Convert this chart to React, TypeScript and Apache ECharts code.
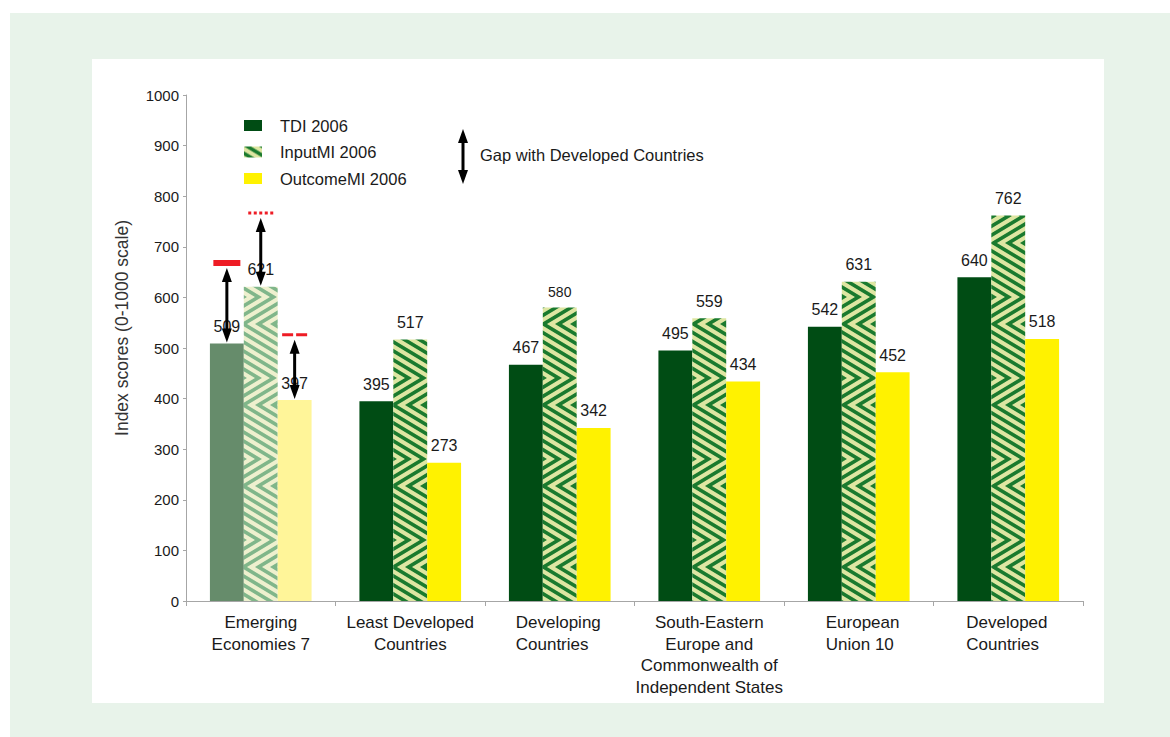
import React, { useEffect, useRef } from 'react';
import * as echarts from 'echarts';

const categories = [
  'Emerging\nEconomies 7',
  'Least Developed\nCountries',
  'Developing\nCountries',
  'South-Eastern\nEurope and\nCommonwealth of\nIndependent States',
  'European\nUnion 10',
  'Developed\nCountries',
];
const seriesNames = ['TDI 2006', 'InputMI 2006', 'OutcomeMI 2006'];
const tdi = [509, 395, 467, 495, 542, 640];
const inputMI = [621, 517, 580, 559, 631, 762];
const outcomeMI = [397, 273, 342, 434, 452, 518];
// Levels of the red markers above the Emerging Economies 7 bars (gap with Developed Countries)
const gapTargets = [668, 767, 526];
const gapNote = 'Gap with Developed Countries';
const yAxisName = 'Index scores (0-1000 scale)';

const FONT = '"Liberation Sans", Arial, Helvetica, sans-serif';

function makeStripes(green: number[], pale: number[]) {
  const W = 15, H = 81, SPLIT = 54, SS = 4;
  const c = document.createElement('canvas');
  c.width = W; c.height = H;
  const ctx = c.getContext('2d')!;
  const img = ctx.createImageData(W, H);
  for (let y = 0; y < H; y++) {
    for (let x = 0; x < W; x++) {
      let g = 0;
      for (let sy = 0; sy < SS; sy++) {
        for (let sx = 0; sx < SS; sx++) {
          const px = x + (sx + 0.5) / SS;
          const py = y + (sy + 0.5) / SS;
          const raw = py < SPLIT ? px - (py * 5) / 3 : px + (py * 5) / 3;
          const t = ((raw % W) + W) % W;
          if (t < 7) g++;
        }
      }
      const a = g / (SS * SS);
      const i = (y * W + x) * 4;
      img.data[i] = Math.round(green[0] * a + pale[0] * (1 - a));
      img.data[i + 1] = Math.round(green[1] * a + pale[1] * (1 - a));
      img.data[i + 2] = Math.round(green[2] * a + pale[2] * (1 - a));
      img.data[i + 3] = 255;
    }
  }
  ctx.putImageData(img, 0, 0);
  return c;
}

const leftBlock: Record<string, number> = {
  'Developing\nCountries': 88,
  'European\nUnion 10': 66,
  'Developed\nCountries': 84,
};

export default function App() {
  const ref = useRef<HTMLDivElement>(null);
  useEffect(() => {
    if (!ref.current) return;
    const chart = echarts.init(ref.current, null, { renderer: 'svg' });
    const stripe = { image: makeStripes([26, 122, 46], [222, 230, 162]), repeat: 'repeat' };
    const stripeFaded = { image: makeStripes([128, 182, 138], [238, 240, 206]), repeat: 'repeat' };

    const labelBase = {
      show: true,
      position: 'top',
      distance: 9,
      fontSize: 16,
      color: '#1a1a1a',
      fontFamily: FONT,
    };

    const richStyles: Record<string, any> = {};
    Object.values(leftBlock).forEach((w) => {
      richStyles['l' + w] = { width: w, align: 'left', fontSize: 17, lineHeight: 21.5, color: '#1a1a1a', fontFamily: FONT };
    });

    const gapFrom = [tdi[0], inputMI[0], outcomeMI[0]];
    const gapData = gapTargets.map((t, i) => [0, i - 1, gapFrom[i], t, i]);

    const option: any = {
      animation: false,
      backgroundColor: 'transparent',
      textStyle: { fontFamily: FONT },
      grid: { left: 186, right: 87, top: 95, bottom: 136, containLabel: false },
      legend: {
        data: seriesNames,
        orient: 'vertical',
        left: 239,
        top: 112,
        itemWidth: 18,
        itemHeight: 11,
        itemGap: 9.5,
        icon: 'rect',
        selectedMode: false,
        textStyle: { fontSize: 16.5, lineHeight: 16, color: '#1a1a1a', fontFamily: FONT, padding: [0, 0, 0, 13] },
      },
      xAxis: {
        type: 'category',
        data: categories,
        axisLine: { lineStyle: { color: '#a6a6a6', width: 1 } },
        axisTick: { show: true, length: 5, lineStyle: { color: '#a6a6a6' } },
        axisLabel: {
          interval: 0,
          margin: 11,
          fontSize: 17,
          lineHeight: 21.5,
          color: '#1a1a1a',
          fontFamily: FONT,
          formatter: (v: string) => {
            const w = leftBlock[v];
            if (!w) return v;
            return v.split('\n').map((l) => `{l${w}|${l}}`).join('\n');
          },
          rich: richStyles,
        },
      },
      yAxis: {
        type: 'value',
        min: 0,
        max: 1000,
        interval: 100,
        name: yAxisName,
        nameLocation: 'middle',
        nameGap: 55,
        nameRotate: 90,
        nameTextStyle: { fontSize: 17.5, color: '#333', fontFamily: FONT, padding: [0, 0, 0, 40] },
        axisLine: { show: true, lineStyle: { color: '#a6a6a6' } },
        axisTick: { show: true, length: 3, lineStyle: { color: '#a6a6a6' } },
        splitLine: { show: false },
        axisLabel: { margin: 7, fontSize: 15, color: '#1a1a1a', fontFamily: FONT, formatter: (v: number) => String(v) },
      },
      series: [
        {
          name: seriesNames[0],
          type: 'bar',
          barGap: '0%',
          barCategoryGap: '32%',
          itemStyle: { color: '#004c14' },
          label: labelBase,
          data: tdi.map((v, i) => (i === 0 ? { value: v, itemStyle: { color: '#668c6b' } } : v)),
        },
        {
          name: seriesNames[1],
          type: 'bar',
          barGap: '0%',
          barCategoryGap: '32%',
          itemStyle: { color: stripe },
          label: labelBase,
          data: inputMI.map((v, i) =>
            i === 0
              ? { value: v, itemStyle: { color: stripeFaded } }
              : i === 2
              ? { value: v, label: { fontSize: 14 } }
              : v
          ),
        },
        {
          name: seriesNames[2],
          type: 'bar',
          barGap: '0%',
          barCategoryGap: '32%',
          itemStyle: { color: '#fff200' },
          label: labelBase,
          data: outcomeMI.map((v, i) => (i === 0 ? { value: v, itemStyle: { color: '#fff599' } } : v)),
        },
        {
          name: 'gap',
          type: 'custom',
          z: 10,
          encode: { x: 0, y: 2 },
          data: gapData,
          renderItem: (params: any, api: any) => {
            const cat = api.value(0);
            const slot = api.value(1);
            const from = api.value(2);
            const to = api.value(3);
            const kind = api.value(4);
            const band = api.size([1, 0])[0];
            const bw = (band * 0.68) / 3;
            const p1 = api.coord([cat, from]);
            const p2 = api.coord([cat, to]);
            const x = p1[0] + slot * bw;
            const topTip = p2[1] + 5;
            const botTip = p1[1] - 1;
            const headL = 14, headW = 5;
            const children: any[] = [
              {
                type: 'line',
                shape: { x1: x, y1: topTip + headL - 2, x2: x, y2: botTip - headL + 2 },
                style: { stroke: '#000', lineWidth: 3 },
              },
              {
                type: 'polygon',
                shape: { points: [[x, topTip], [x - headW, topTip + headL], [x + headW, topTip + headL]] },
                style: { fill: '#000' },
              },
              {
                type: 'polygon',
                shape: { points: [[x, botTip], [x - headW, botTip - headL], [x + headW, botTip - headL]] },
                style: { fill: '#000' },
              },
            ];
            if (kind === 0) {
              children.push({
                type: 'line',
                shape: { x1: x - 13.5, y1: p2[1], x2: x + 13.5, y2: p2[1] },
                style: { stroke: '#ee1c25', lineWidth: 6 },
              });
            } else if (kind === 1) {
              children.push({
                type: 'line',
                shape: { x1: x - 12.5, y1: p2[1], x2: x + 12.5, y2: p2[1] },
                style: { stroke: '#ee1c25', lineWidth: 3, lineDash: [3, 2.5] },
              });
            } else {
              children.push({
                type: 'line',
                shape: { x1: x - 12.5, y1: p2[1], x2: x + 12.5, y2: p2[1] },
                style: { stroke: '#ee1c25', lineWidth: 3, lineDash: [11, 3] },
              });
            }
            return { type: 'group', children };
          },
        },
      ],
      graphic: [
        {
          type: 'group',
          left: 458,
          top: 129,
          children: [
            { type: 'line', shape: { x1: 5, y1: 10, x2: 5, y2: 45 }, style: { stroke: '#000', lineWidth: 3 } },
            { type: 'polygon', shape: { points: [[5, 0], [0, 14], [10, 14]] }, style: { fill: '#000' } },
            { type: 'polygon', shape: { points: [[5, 55], [0, 41], [10, 41]] }, style: { fill: '#000' } },
          ],
        },
        {
          type: 'text',
          left: 480,
          top: 146,
          style: { text: gapNote, fontSize: 16.5, fill: '#1a1a1a', fontFamily: FONT },
        },
      ],
    };
    chart.setOption(option);
    return () => chart.dispose();
  }, []);

  return (
    <div style={{ position: 'fixed', left: 0, top: 0, width: 1170, height: 737, background: '#fff' }}>
      <div style={{ position: 'absolute', left: 10, top: 13, right: 0, bottom: 0, background: '#e8f3ea' }} />
      <div style={{ position: 'absolute', left: 92, top: 59, width: 1012, height: 644, background: '#fff' }} />
      <div ref={ref} style={{ position: 'absolute', left: 0, top: 0, width: 1170, height: 737 }} />
    </div>
  );
}
